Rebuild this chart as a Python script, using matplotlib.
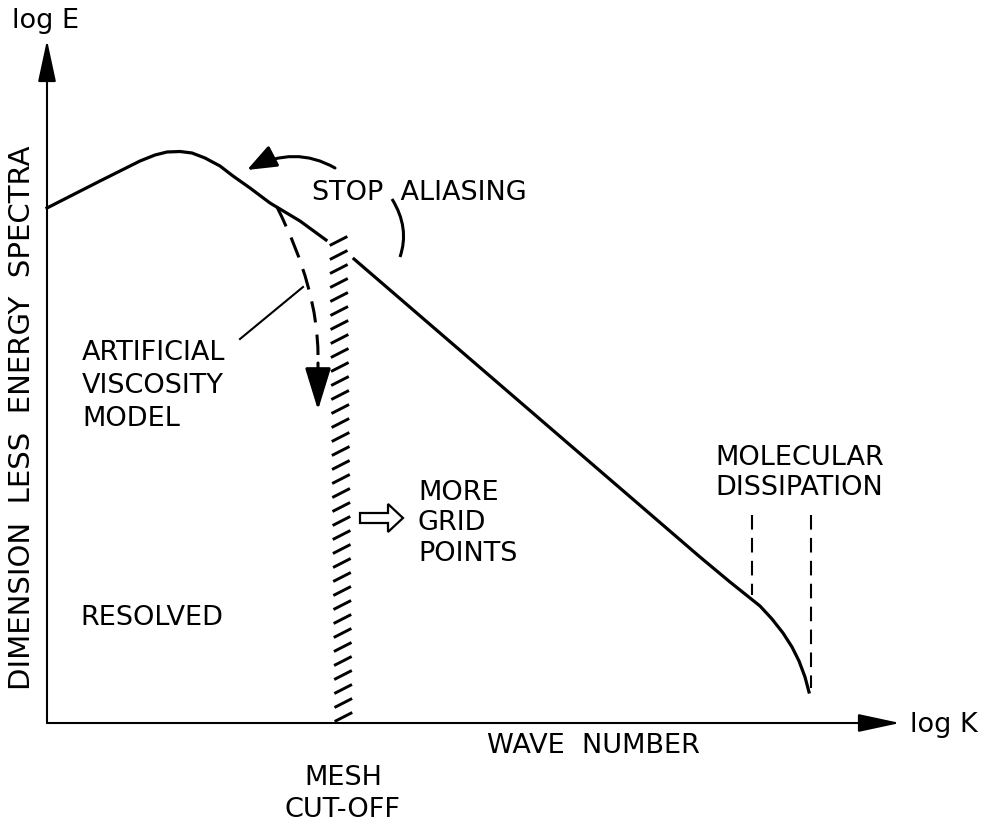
import matplotlib
matplotlib.use("Agg")
import matplotlib.pyplot as plt
import numpy as np
from matplotlib.path import Path
from matplotlib.patches import PathPatch, FancyArrowPatch, FancyArrow
from matplotlib.collections import LineCollection

# ---------------- data (axis units: log K horizontally, log E vertically) ----------------
k_resolved = [0.00, 0.53, 0.93, 1.08, 1.20, 1.33, 1.45, 1.58, 1.73, 1.86, 2.03, 2.23, 2.53, 2.79]
E_resolved = [5.15, 5.42, 5.62, 5.68, 5.71, 5.715, 5.70, 5.65, 5.57, 5.47, 5.35, 5.20, 5.02, 4.83]

k_unresolved = [3.07, 6.53, 6.83, 6.98, 7.13, 7.25, 7.36, 7.45, 7.52, 7.58, 7.62]
E_unresolved = [4.64, 1.66, 1.41, 1.29, 1.17, 1.04, 0.90, 0.76, 0.62, 0.46, 0.31]

k_cutoff_bottom = 2.965
k_cutoff_top = 2.915
E_cutoff_top = 4.85

k_dissipation = [7.05, 7.64]
E_diss_top = [2.08, 2.08]
E_diss_bottom = [1.28, 0.35]

k_axis_end = 8.53
E_axis_end = 6.83

# ---------------- figure ----------------
fig = plt.figure(figsize=(9.87, 8.24), dpi=100)
ax = fig.add_axes([0, 0, 1, 1])
ax.set_xlim(-0.47, 9.40)
ax.set_ylim(-1.01, 7.23)
ax.axis("off")

FS = 19.5
TXT = dict(family="DejaVu Sans", color="black")

# axes with arrows
for tip in [(k_axis_end, 0), (0, E_axis_end)]:
    ax.annotate("", xy=tip, xytext=(0, 0),
                arrowprops=dict(arrowstyle="-|>,head_length=1.3,head_width=0.28",
                                lw=1.5, color="black", shrinkA=0, shrinkB=0,
                                mutation_scale=20))

# spectrum
ax.plot(k_resolved, E_resolved, color="black", lw=2.3, solid_joinstyle="round")
ax.plot(k_unresolved, E_unresolved, color="black", lw=2.3, solid_joinstyle="round")

# mesh cut-off hatch
hatch_E = np.arange(0.06, E_cutoff_top, 0.14)
segs = []
for e in hatch_E:
    c = k_cutoff_bottom + (k_cutoff_top - k_cutoff_bottom) * e / E_cutoff_top
    segs.append([(c - 0.088, e - 0.045), (c + 0.088, e + 0.045)])
ax.add_collection(LineCollection(segs, colors="black", linewidths=2.1))

# molecular dissipation dashed markers
for k, e0, e1 in zip(k_dissipation, E_diss_top, E_diss_bottom):
    ax.plot([k, k], [e0, e1], color="black", lw=1.5, linestyle=(0, (7, 4)))

# artificial viscosity dashed arrow
visc = Path([(2.30, 5.16), (2.71, 4.34), (2.71, 3.68)],
            [Path.MOVETO, Path.CURVE3, Path.CURVE3])
ax.add_patch(PathPatch(visc, fill=False, lw=2.2, linestyle=(0, (7, 4)),
                       edgecolor="black", capstyle="butt"))
ax.annotate("", xy=(2.71, 3.13), xytext=(2.71, 3.60),
            arrowprops=dict(arrowstyle="-|>,head_length=1.3,head_width=0.4",
                            lw=2.2, color="black", shrinkA=0, shrinkB=0,
                            mutation_scale=20))

# leader line to ARTIFICIAL VISCOSITY MODEL
ax.plot([2.56, 1.93], [4.36, 3.84], color="black", lw=1.5)

# stop aliasing curved arrow
stop = Path([(2.88, 5.55), (2.48, 5.78), (2.00, 5.53)],
            [Path.MOVETO, Path.CURVE3, Path.CURVE3])
ax.add_patch(FancyArrowPatch(path=stop,
                             arrowstyle="-|>,head_length=0.9,head_width=0.35",
                             mutation_scale=20, lw=2.2, color="black"))
paren = Path([(3.45, 5.24), (3.63, 4.95), (3.53, 4.66)],
             [Path.MOVETO, Path.CURVE3, Path.CURVE3])
ax.add_patch(PathPatch(paren, fill=False, lw=2.2, edgecolor="black"))

# open arrow "more grid points"
ax.add_patch(FancyArrow(3.13, 2.05, 0.43, 0.0, width=0.10, head_width=0.28,
                        head_length=0.15, length_includes_head=True,
                        facecolor="white", edgecolor="black", lw=1.6))

# ---------------- text ----------------
ax.text(-0.35, 6.95, "log E", va="baseline", ha="left", fontsize=FS, **TXT)
ax.text(8.63, -0.09, "log K", va="baseline", ha="left", fontsize=FS, **TXT)
ax.text(-0.25, 3.05, "DIMENSION  LESS  ENERGY  SPECTRA", rotation=90,
        va="center", ha="center", fontsize=21, **TXT)
ax.text(2.65, 5.23, "STOP  ALIASING", va="baseline", ha="left", fontsize=FS, **TXT)
for s, y in zip(["ARTIFICIAL", "VISCOSITY", "MODEL"], [3.63, 3.30, 2.97]):
    ax.text(0.35, y, s, va="baseline", ha="left", fontsize=FS, **TXT)
for s, y in zip(["MORE", "GRID", "POINTS"], [2.23, 1.93, 1.62]):
    ax.text(3.71, y, s, va="baseline", ha="left", fontsize=FS, **TXT)
ax.text(0.33, 0.98, "RESOLVED", va="baseline", ha="left", fontsize=FS, **TXT)
for s, y in zip(["MOLECULAR", "DISSIPATION"], [2.58, 2.28]):
    ax.text(6.68, y, s, va="baseline", ha="left", fontsize=FS, **TXT)
ax.text(4.40, -0.30, "WAVE  NUMBER", va="baseline", ha="left", fontsize=FS, **TXT)
ax.text(2.96, -0.62, "MESH", va="baseline", ha="center", fontsize=FS, **TXT)
ax.text(2.96, -0.94, "CUT-OFF", va="baseline", ha="center", fontsize=FS, **TXT)

fig.savefig("out.png", dpi=100, facecolor="white")
